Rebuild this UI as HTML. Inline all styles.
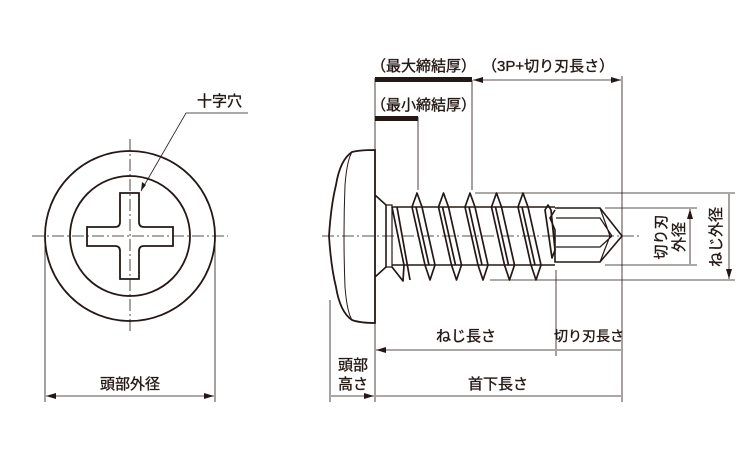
<!DOCTYPE html>
<html><head><meta charset="utf-8"><style>
html,body{margin:0;padding:0;background:#fff}
svg{display:block}
text{font-family:"Liberation Sans","Noto Sans CJK JP",sans-serif;fill:#231815;stroke:#231815;stroke-width:0.35}
</style></head><body>
<svg width="750" height="450" viewBox="0 0 750 450" xmlns="http://www.w3.org/2000/svg">
<defs>
<marker id="a" viewBox="0 0 10 6" refX="10" refY="3" markerWidth="10" markerHeight="6" orient="auto-start-reverse" markerUnits="userSpaceOnUse"><path d="M0,0L10,3L0,6z" fill="#231815"/></marker>
</defs>
<g stroke="#231815" fill="none">
<!-- left view -->
<circle cx="130" cy="236" r="85" stroke-width="1.8"/>
<circle cx="130" cy="236" r="60" stroke-width="1.8"/>
<path d="M120,193H139V222Q139,227 144,227H173V246H144Q139,246 139,251V279H120V251Q120,246 115,246H87V227H115Q120,227 120,222Z" stroke-width="1.8"/>
<path d="M32,236H228M130,139V333" stroke-width="0.8" stroke-dasharray="12,3,2,3"/>
<path d="M141,191L186,113H248" stroke-width="0.8"/>
<path d="M141,191l1,-9l4,3z" fill="#231815" stroke="none"/>
<path d="M45,236V402M215,236V402" stroke-width="0.8"/>
<path d="M46,396H214" stroke-width="0.8" marker-start="url(#a)" marker-end="url(#a)"/>
<!-- head -->
<path d="M375,150Q360,150 352,152Q340,160 336,185Q331,205 329,236Q331,267 336,287Q340,312 352,320Q360,323 375,323Z" stroke-width="1.8"/>
<path d="M352,152Q347,160 345,185Q343,236 345,287Q347,312 352,320" stroke-width="1"/>
<path d="M375,195L386,205V267L375,277" stroke-width="1.6"/>
<path d="M386,205H392V267H386" stroke-width="1.2"/>
<!-- shank body -->
<path d="M392,207H555M392,265H555" stroke-width="1.5"/>
<g stroke-width="1.7" stroke-linejoin="round">
<path d="M392,207L404,265L403,281L392,267"/>
<path d="M397,207L410,280"/>
<path d="M412,207L417,193L422,207M412,207L425,265L430,280L435,265L422,207M416,207L429,265"/>
<path d="M438.5,207L443.5,193L448.5,207M438.5,207L451.5,265L456.5,280L461.5,265L448.5,207M442.5,207L455.5,265"/>
<path d="M465,207L470,193L475,207M465,207L478,265L483,280L488,265L475,207M469,207L482,265"/>
<path d="M491.5,207L496.5,193L501.5,207M491.5,207L504.5,265L509.5,280L514.5,265L501.5,207M495.5,207L508.5,265"/>
<path d="M518,207L523,193L528,207M518,207L531,265L536,280L541,265L528,207M522,207L535,265"/>
<path d="M545,210L548,205L551,210L555,250L552,258Z"/>
</g>
<!-- drill -->
<path d="M555,210L550,218L555,230V262H600L622,236L600,208H555" stroke-width="1.6"/>
<path d="M556,218H600L612,236M556,236H612M556,247H600L612,236M600,208L610,236L600,262" stroke-width="1.2"/>
<!-- center line -->
<path d="M322,236H640" stroke-width="0.8" stroke-dasharray="12,3,2,3"/>
<!-- extension lines -->
<path d="M375,78V402M330,300V402M418,117V190M472,80V190M622,76V402M556,270V356" stroke-width="0.8"/>
<path d="M475,193H735M490,280H735M605,208H697M605,265H697" stroke-width="0.8"/>
<path d="M690,209V264M729,194V279" stroke-width="0.8" marker-start="url(#a)" marker-end="url(#a)"/>
<path d="M473,80H621" stroke-width="0.8" marker-start="url(#a)" marker-end="url(#a)"/>
<path d="M376,350H555M557,350H621M376,396H621M331,396H374" stroke-width="0.8" marker-start="url(#a)" marker-end="url(#a)"/>
</g>
<rect x="375" y="77" width="97" height="5" fill="#231815"/>
<rect x="375" y="116" width="43" height="5" fill="#231815"/>
<g font-size="15">
<text x="197" y="106">十字穴</text>
<text x="130" y="389" text-anchor="middle">頭部外径</text>
<text x="371" y="71">（最大締結厚）</text>
<text x="482" y="71">（3P+切り刃長さ）</text>
<text x="371" y="110">（最小締結厚）</text>
<text x="466" y="341" text-anchor="middle">ねじ長さ</text>
<text x="589" y="341" text-anchor="middle" font-size="14">切り刃長さ</text>
<text x="353" y="370" text-anchor="middle">頭部</text>
<text x="353" y="389" text-anchor="middle">高さ</text>
<text x="498" y="389" text-anchor="middle">首下長さ</text>
<text transform="translate(666,237) rotate(-90)" text-anchor="middle">切り刃</text>
<text transform="translate(684,237) rotate(-90)" text-anchor="middle">外径</text>
<text transform="translate(721,237) rotate(-90)" text-anchor="middle">ねじ外径</text>
</g>
</svg>
</body></html>
